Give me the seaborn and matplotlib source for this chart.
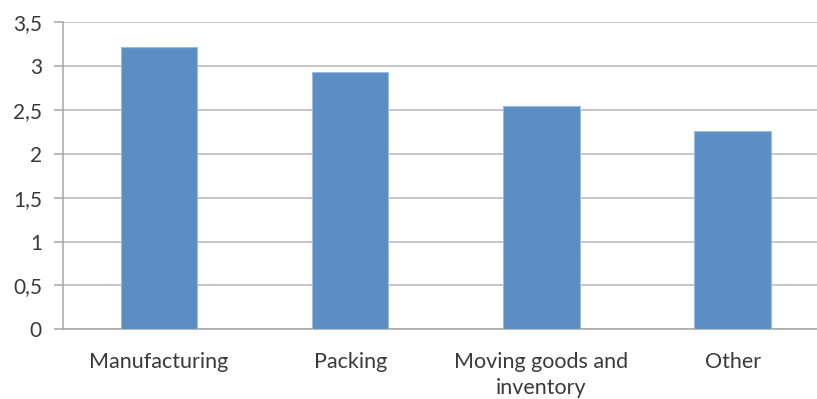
import matplotlib
matplotlib.use("Agg")
import matplotlib.pyplot as plt
import seaborn as sns
import pandas as pd
from matplotlib.ticker import FixedLocator, FuncFormatter

categories = ["Manufacturing", "Packing", "Moving goods and\ninventory", "Other"]
values = [3.22, 2.93, 2.55, 2.26]
y_ticks = [0, 0.5, 1, 1.5, 2, 2.5, 3, 3.5]

df = pd.DataFrame({"category": categories, "value": values})

sns.set_style("white")
plt.rcParams["font.family"] = ["Lato", "DejaVu Sans"]

fig = plt.figure(figsize=(8.17, 3.99), dpi=100)
ax = fig.add_axes([0.0777, 0.1747, 0.936, 0.769])

sns.barplot(data=df, x="category", y="value", color="#5b8ec3", width=0.4,
            edgecolor="#9dbbe0", linewidth=0.8, saturation=1, ax=ax, zorder=3)

ax.set_xlim(-0.5, 3.5)
ax.set_ylim(0, 3.5)
ax.yaxis.set_major_locator(FixedLocator(y_ticks))
ax.yaxis.set_major_formatter(FuncFormatter(lambda v, p: f"{v:g}".replace(".", ",")))
ax.grid(axis="y", color="#b5b5b5", linewidth=1.1, zorder=0)
ax.set_axisbelow(True)

for side in ["top", "right"]:
    ax.spines[side].set_visible(False)
for side in ["left", "bottom"]:
    ax.spines[side].set_color("#a6a6a6")
    ax.spines[side].set_linewidth(1.1)

ax.xaxis.set_minor_locator(FixedLocator([-0.5, 0.5, 1.5, 2.5, 3.5]))
ax.tick_params(axis="x", which="major", length=0, pad=16.5, labelsize=15.5, labelcolor="#3a3a3a")
ax.tick_params(axis="x", which="minor", length=5, color="#a6a6a6", width=1.1)
ax.tick_params(axis="y", which="major", length=6.5, color="#a6a6a6", width=1.1,
               labelsize=15, labelcolor="#3a3a3a", pad=9, left=True)
for lbl in ax.get_xticklabels():
    lbl.set_linespacing(1.35)

ax.set_xlabel("")
ax.set_ylabel("")

fig.savefig("out.png", dpi=100)
